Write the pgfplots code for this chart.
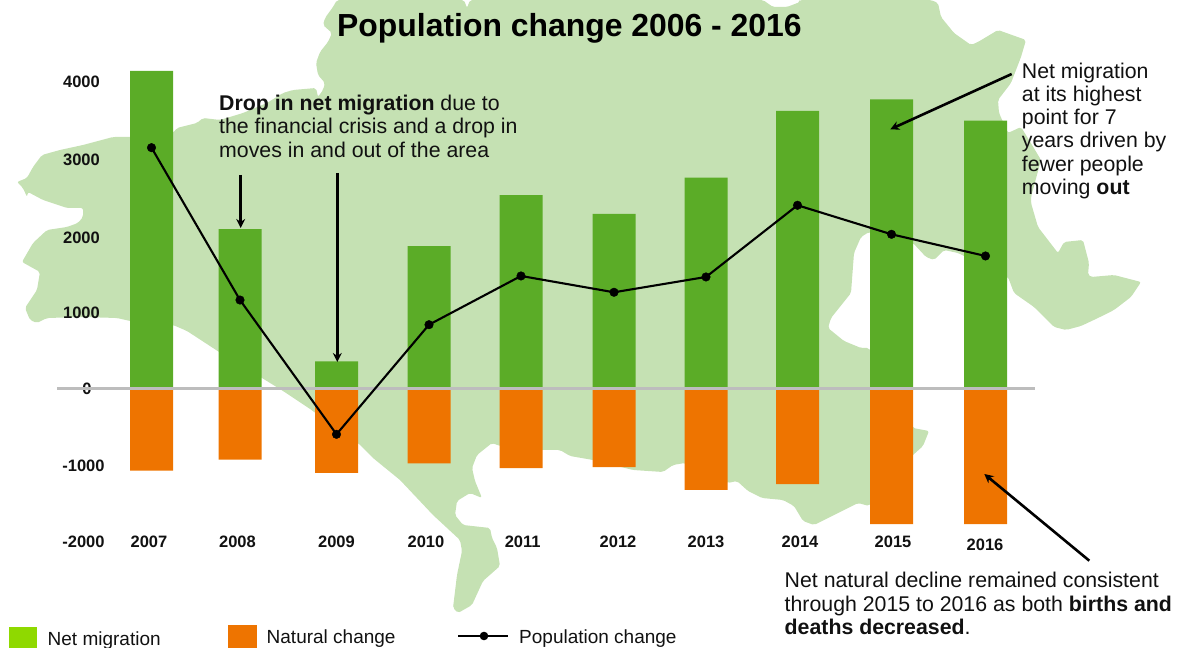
\documentclass[border=0pt]{standalone}
\usepackage{fontspec}
\setmainfont{Liberation Sans}
\usepackage{pgfplots}
\pgfplotsset{compat=1.18}
\usepackage{pgfplotstable}
\usetikzlibrary{arrows.meta}
\definecolor{mapgreen}{HTML}{C5E1B3}
\definecolor{bargreen}{HTML}{5BAC27}
\definecolor{barorange}{HTML}{EE7400}
\definecolor{leggreen}{HTML}{8FD900}
\definecolor{zeroline}{HTML}{BDBDBD}
\definecolor{ink}{HTML}{111111}
% x is the horizontal position of each year's bar on the chart
\pgfplotstableread{
x     netmig natural popchange
151.5 4145   -1073   3144
240   2082   -929    1155
336.5 355    -1103   -598
429   1860   -977    833
521   2526   -1038   1469
614   2278   -1025   1256
706   2752   -1325   1456
797.5 3623   -1247   2392
891.5 3775   -1769   2013
985.5 3496   -1769   1730
}\popdata
\newcommand{\txt}{\fontsize{21.3}{23.4}\selectfont}
\begin{document}
\begin{tikzpicture}[x=1pt,y=1pt]
\useasboundingbox (0,0) rectangle (1181,648);
\begin{scope}[x=1pt,y=-1pt,shift={(0pt,648pt)}]
\fill[mapgreen,rounded corners=2pt] (337,0)--(333,7)--(325,18)--(323,25)--(332,33)--(328,42)--(320,52)--(316,63)--(318,75)--(325,83)--(323,90)--(318,97)--(316,88)--(293,90)--(283,93)--(267,103)--(243,113)--(220,120)--(203,118)--(197,123)--(177,128)--(173,133)--(130,137)--(113,137)--(83,145)--(60,150)--(42,155)--(33,167)--(27,178)--(17,182)--(23,188)--(27,197)--(28,192)--(43,200)--(67,208)--(83,208)--(83,217)--(78,223)--(67,227)--(47,230)--(33,243)--(22,262)--(40,272)--(37,290)--(25,308)--(30,320)--(37,323)--(47,318)--(83,317)--(117,318)--(130,321)--(173,325)--(187,331)--(213,348)--(233,361)--(262,378)--(283,391)--(313,411)--(337,431)--(358,443)--(373,458)--(400,480)--(433,515)--(460,540)--(462,551)--(457,575)--(453,608)--(458,613)--(472,605)--(483,581)--(500,566)--(497,548)--(492,538)--(490,528)--(463,525)--(455,515)--(457,501)--(470,493)--(482,498)--(475,481)--(472,468)--(477,455)--(492,443)--(500,446)--(543,450)--(560,450)--(570,456)--(593,460)--(633,470)--(663,472)--(673,465)--(685,463)--(728,483)--(737,481)--(748,491)--(762,498)--(783,500)--(794,506)--(803,521)--(814,525)--(834,515)--(858,503)--(869,506)--(913,455)--(923,446)--(929,431)--(913,428)--(869,348)--(861,348)--(844,341)--(828,328)--(831,318)--(851,293)--(854,253)--(861,237)--(869,232)--(913,243)--(926,257)--(934,260)--(944,250)--(958,253)--(1008,277)--(1014,293)--(1034,307)--(1054,327)--(1066,330)--(1081,326)--(1098,318)--(1114,310)--(1131,297)--(1141,282)--(1114,275)--(1091,277)--(1088,275)--(1089,263)--(1083,240)--(1064,242)--(1058,253)--(1038,227)--(1031,203)--(1031,197)--(1041,160)--(1029,140)--(1021,127)--(1008,133)--(999,113)--(998,100)--(1011,83)--(1021,57)--(1026,40)--(998,30)--(978,42)--(971,45)--(954,33)--(941,17)--(938,3)--(931,0)--(800,0)--(800,2)--(787,7)--(773,7)--(763,0)--(470,0)--(467,8)--(464,0)--cycle;
\end{scope}
\begin{axis}[
  at={(57pt,106.3pt)},anchor=south west,
  x=1pt,y=0.0766pt,
  xmin=57,xmax=1035,ymin=-2000,ymax=4200,
  clip=false,
  axis line style={draw=none},
  major tick length=0pt,
  tick style={draw=none},
  xtick={149,237.5,336.5,426,522.7,618,706,800,893,985},
  xticklabels={2007,2008,2009,2010,2011,2012,2013,2014,2015,\raisebox{-3pt}{2016}},
  ytick={-2000,-1000,0,1000,2000,3000,4000},
  yticklabels={\hspace*{4pt}-2000,\hspace*{4pt}\raisebox{-0.9pt}{-1000},\hspace*{11pt}\raisebox{-0.5pt}{0},\raisebox{-0.8pt}{1000},\raisebox{-2.2pt}{2000},\raisebox{-0.8pt}{3000},4000},
  x tick label style={font=\fontsize{16.5}{18}\selectfont\bfseries,color=ink,anchor=base,yshift=-5.5pt},
  y tick label style={font=\fontsize{16.5}{18}\selectfont\bfseries,color=ink,anchor=base,xshift=24.5pt,yshift=-5.7pt},
]
\addplot[ybar,bar width=43pt,bar shift=0pt,fill=bargreen,draw=none] table[x=x,y=netmig]{\popdata};
\addplot[ybar,bar width=43pt,bar shift=0pt,fill=barorange,draw=none] table[x=x,y=natural]{\popdata};
\addplot[zeroline,line width=2.6pt,forget plot] coordinates {(57,0)(1035,0)};
\addplot[black,line width=2.1pt,mark=*,mark size=4.3pt,mark options={fill=black,draw=black,line width=0.4pt}] table[x=x,y=popchange]{\popdata};
\end{axis}
\begin{scope}[x=1pt,y=-1pt,shift={(0pt,648pt)}]
\node[anchor=base west,inner sep=0pt,text=black] at (337,37) {\fontsize{31.9}{34}\selectfont\bfseries Population change 2006 - 2016};
\node[anchor=base west,inner sep=0pt,text=ink] at (219,111) {\txt\textbf{Drop in net migration} due to};
\node[anchor=base west,inner sep=0pt,text=ink] at (219,134) {\txt the financial crisis and a drop in};
\node[anchor=base west,inner sep=0pt,text=ink] at (219,157.3) {\txt moves in and out of the area};
\foreach \l/\b in {Net migration/79,at its highest/101.7,point for 7/125,years driven by/147.7,fewer people/171.7}
  \node[anchor=base west,inner sep=0pt,text=ink] at (1021.7,\b) {\txt \l};
\node[anchor=base west,inner sep=0pt,text=ink] at (1021.7,195) {\txt moving \textbf{out}};
\node[anchor=base west,inner sep=0pt,text=ink] at (784.5,587.3) {\txt Net natural decline remained consistent};
\node[anchor=base west,inner sep=0pt,text=ink] at (784.5,611.3) {\txt through 2015 to 2016 as both \textbf{births and}};
\node[anchor=base west,inner sep=0pt,text=ink] at (784.5,634.7) {\txt \textbf{deaths decreased}.};
% arrows
\tikzset{arr/.style={black,line width=2.6pt,-{Stealth[length=9pt,width=9pt]}}}
\draw[arr] (240.7,175)--(240.7,228);
\draw[arr] (337.3,173)--(337.3,362);
\draw[arr] (1011.7,74)--(890.3,129.3);
\draw[arr] (1089.3,560.7)--(984.3,474);
% legend
\fill[leggreen] (9,627) rectangle (37,648);
\node[anchor=base west,inner sep=0pt,text=ink] at (47.5,646) {\fontsize{19}{21}\selectfont Net migration};
\fill[barorange] (228,625) rectangle (257,648);
\node[anchor=base west,inner sep=0pt,text=ink] at (266.5,643) {\fontsize{19}{21}\selectfont Natural change};
\draw[black,line width=2.1pt] (458,636)--(508,636);
\fill[black] (484,636) circle (4.3pt);
\node[anchor=base west,inner sep=0pt,text=ink] at (519,643) {\fontsize{19}{21}\selectfont Population change};
\end{scope}
\end{tikzpicture}
\end{document}
